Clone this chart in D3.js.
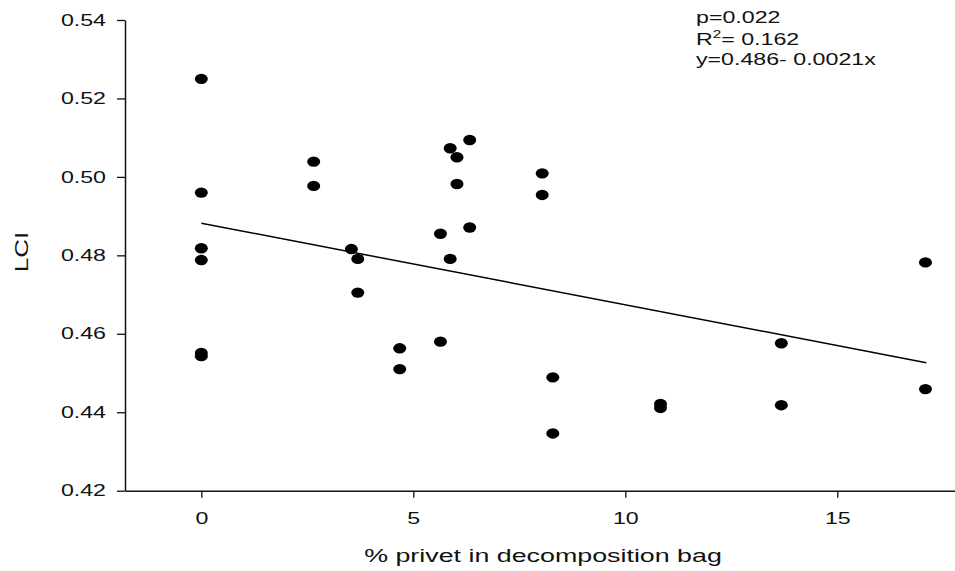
<!DOCTYPE html>
<html>
<head>
<meta charset="utf-8">
<script src="https://cdn.jsdelivr.net/npm/d3@7"></script>
<style>
  html, body { margin: 0; padding: 0; background: #fff; }
  svg { display: block; font-family: "Liberation Sans", Arial, sans-serif; }
</style>
</head>
<body>
<div id="chart"></div>
<script>
// % privet in each bag and the matching LCI value
const privetPct = [
  0, 0, 0, 0, 0, 0,
  2.65, 2.65,
  3.54, 3.69, 3.69,
  4.68, 4.68,
  5.64, 5.64,
  5.87, 5.87,
  6.03, 6.03,
  6.33, 6.33,
  8.04, 8.04,
  8.29, 8.29,
  10.83, 10.83,
  13.68, 13.68,
  17.08, 17.08
];
const lciValues = [
  0.525, 0.496, 0.4818, 0.4788, 0.4551, 0.4543,
  0.5039, 0.4977,
  0.4816, 0.4791, 0.4705,
  0.4563, 0.4510,
  0.4855, 0.4580,
  0.5073, 0.4791,
  0.5050, 0.4982,
  0.5094, 0.4871,
  0.5009, 0.4954,
  0.4489, 0.4346,
  0.4421, 0.4411,
  0.4576, 0.4418,
  0.4782, 0.4459
];

const xTicks = [0, 5, 10, 15];
const yTicks = [0.42, 0.44, 0.46, 0.48, 0.50, 0.52, 0.54];

// fitted line as drawn
const fitIntercept = 0.4882;
const fitSlope = -0.00208;
const fitRange = [0, 17.1];

const statsLines = ['p=0.022', 'R2= 0.162', 'y=0.486- 0.0021x'];

const width = 955, height = 571;
const stretch = 1.45; // text in the figure is drawn wide

const svg = d3.select('#chart').append('svg')
  .attr('width', width)
  .attr('height', height);

const x = d3.scaleLinear().domain([-1.8, 17.8]).range([125, 956]);
const y = d3.scaleLinear().domain([0.42, 0.54]).range([490.7, 20]);

// axes
const yAxis = svg.append('g')
  .attr('transform', `translate(${x.range()[0]},0)`)
  .call(d3.axisLeft(y).tickValues(yTicks).tickFormat(d3.format('.2f'))
    .tickSize(8).tickSizeOuter(0).tickPadding(11));

const xAxis = svg.append('g')
  .attr('transform', `translate(0,${y.range()[0]})`)
  .call(d3.axisBottom(x).tickValues(xTicks).tickFormat(d3.format('d'))
    .tickSize(7).tickSizeOuter(0).tickPadding(15));

[xAxis, yAxis].forEach(g => {
  g.select('.domain').attr('stroke', '#111').attr('stroke-width', 1.5);
  g.selectAll('.tick line').attr('stroke', '#111').attr('stroke-width', 1.3);
  g.selectAll('.tick text')
    .attr('fill', '#111')
    .style('font-size', '16px')
    .style('font-family', '"Liberation Sans", Arial, sans-serif');
});

// widen the tick labels in place
yAxis.selectAll('.tick text').each(function() {
  const t = d3.select(this);
  const tx = +t.attr('x');
  t.attr('x', 0).attr('transform', `translate(${tx},0) scale(${stretch},1)`);
});
xAxis.selectAll('.tick text').each(function() {
  const t = d3.select(this);
  const ty = +t.attr('y');
  t.attr('y', 0).attr('transform', `translate(0,${ty}) scale(${stretch},1)`);
});

// regression line
const line = d3.line().x(d => x(d)).y(d => y(fitIntercept + fitSlope * d));
svg.append('path')
  .attr('d', line(fitRange))
  .attr('fill', 'none')
  .attr('stroke', '#000')
  .attr('stroke-width', 1.5);

// points
svg.append('g').selectAll('ellipse')
  .data(privetPct.map((p, i) => [p, lciValues[i]]))
  .join('ellipse')
  .attr('cx', d => x(d[0]))
  .attr('cy', d => y(d[1]))
  .attr('rx', 6.5)
  .attr('ry', 5.2)
  .attr('fill', '#000');

// axis titles
svg.append('text')
  .attr('transform', `translate(543,562) scale(${stretch},1)`)
  .attr('text-anchor', 'middle')
  .style('font-size', '18.5px')
  .attr('fill', '#111')
  .text('% privet in decomposition bag');

svg.append('text')
  .attr('transform', `translate(28,252) rotate(-90) scale(${stretch},1)`)
  .attr('text-anchor', 'middle')
  .style('font-size', '18px')
  .attr('fill', '#111')
  .text('LCI');

// stats annotation
const stats = svg.append('g').attr('fill', '#111').style('font-size', '16px');
const baselines = [23, 44.5, 65];
stats.append('text')
  .attr('transform', `translate(696,${baselines[0]}) scale(${stretch},1)`)
  .text(statsLines[0]);
const r2 = stats.append('text')
  .attr('transform', `translate(696,${baselines[1]}) scale(${stretch},1)`);
r2.append('tspan').text('R');
r2.append('tspan').attr('dy', -7).style('font-size', '10.5px').text('2');
r2.append('tspan').attr('dy', 7).text(statsLines[1].slice(2));
stats.append('text')
  .attr('transform', `translate(696,${baselines[2]}) scale(${stretch},1)`)
  .text(statsLines[2]);
</script>
</body>
</html>
